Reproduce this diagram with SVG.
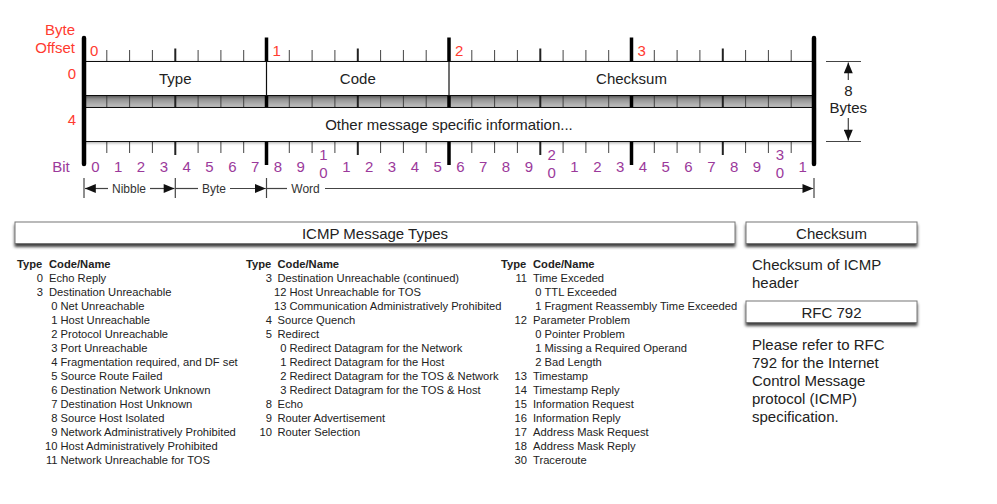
<svg xmlns="http://www.w3.org/2000/svg" xmlns:xlink="http://www.w3.org/1999/xlink" width="997" height="504" viewBox="0 0 997 504">
<style>
text{font-family:"Liberation Sans",Arial,Helvetica,sans-serif;fill:#222}
.red{fill:#ff3b30;font-size:15px}
.pur{fill:#9b399b;font-size:15px;text-anchor:middle}
.lbl{font-size:15px;text-anchor:middle}
.ann{font-size:12px;text-anchor:middle;fill:#333}
.desc{font-size:15px}
.t{font-size:11.2px}
.n{font-size:11.2px;text-anchor:end}
.h{font-size:11.2px;font-weight:bold}
.thin{stroke:#444;stroke-width:1;fill:none}
.nib{stroke:#222;stroke-width:2;fill:none}
.byte{stroke:#000;stroke-width:3.5;fill:none}
.frame{stroke:#000;stroke-width:4.5;fill:none;stroke-linecap:round}
.box{fill:#fff;stroke:#111;stroke-width:1}
.hbox{fill:#fff;stroke:#777;stroke-width:1}
.cn{stroke:#444;stroke-width:1.2;fill:none}
</style>
<defs>
<linearGradient id="band" x1="0" y1="0" x2="0" y2="1">
<stop offset="0" stop-color="#7c7c7c"/><stop offset="1" stop-color="#c4c4c4"/>
</linearGradient>
<filter id="sh" x="-5%" y="-40%" width="110%" height="200%">
<feDropShadow dx="0" dy="3" stdDeviation="1.8" flood-color="#000" flood-opacity="0.75"/>
</filter>
<filter id="sh2" x="-5%" y="-30%" width="110%" height="160%">
<feDropShadow dx="0" dy="1" stdDeviation="1.5" flood-color="#000" flood-opacity="0.35"/>
</filter>
<marker id="ah" viewBox="0 0 12 10" refX="12" refY="5" markerWidth="12" markerHeight="9" markerUnits="userSpaceOnUse" orient="auto-start-reverse">
<path d="M0,0 L12,5 L0,10 z" fill="#111"/>
</marker>
<path id="thinT" d="M106.8 0v11M129.6 0v11M152.4 0v11M198.1 0v11M220.9 0v11M243.7 0v11M289.3 0v11M312.1 0v11M334.9 0v11M380.6 0v11M403.4 0v11M426.2 0v11M471.8 0v11M494.6 0v11M517.4 0v11M563.1 0v11M585.9 0v11M608.7 0v11M654.3 0v11M677.1 0v11M699.9 0v11M745.6 0v11M768.4 0v11M791.2 0v11"/>
<path id="nibT" d="M175.3 0v13M357.8 0v13M540.3 0v13M722.8 0v13"/>
</defs>

<g id="ruler">
<rect x="84" y="95.5" width="730" height="12" fill="url(#band)"/>
<line x1="84" y1="95.5" x2="814" y2="95.5" stroke="#222"/>
<line x1="84" y1="107.5" x2="814" y2="107.5" stroke="#222"/>
<use xlink:href="#thinT" class="thin" transform="translate(0,50)"/>
<use xlink:href="#thinT" class="thin" transform="translate(0,96)"/>
<use xlink:href="#thinT" class="thin" transform="translate(0,142)"/>
<use xlink:href="#nibT" class="nib" transform="translate(0,48.5)"/>
<path class="nib" d="M175.3 96v11M357.8 96v11M540.3 96v11M722.8 96v11"/>
<use xlink:href="#nibT" class="nib" transform="translate(0,142)"/>
<path class="byte" d="M266.5 37.5V61.5M449 37.5V61.5M631.5 37.5V61.5M266.5 96V107M449 96V107M631.5 96V107M266.5 142V165M449 142V165M631.5 142V165"/>
</g>

<g id="row0" filter="url(#sh2)">
<rect class="box" x="84" y="61.5" width="730" height="34"/>
<path d="M266.5 61.5V95.5M449 61.5V95.5" stroke="#111" stroke-width="1.2"/>
</g>
<g id="field-type"><text class="lbl" x="175.3" y="84">Type</text></g>
<g id="field-code"><text class="lbl" x="357.8" y="84">Code</text></g>
<g id="field-checksum"><text class="lbl" x="631.5" y="84">Checksum</text></g>

<g id="row4" filter="url(#sh2)">
<rect class="box" x="84" y="107.5" width="730" height="34"/>
</g>
<g id="field-other"><text class="lbl" x="449" y="130">Other message specific information...</text></g>

<g id="frame">
<path class="frame" d="M84 38V164M814 38V164"/>
</g>

<g id="offsets">
<text class="red" x="75" y="35" text-anchor="end">Byte</text>
<text class="red" x="75" y="53" text-anchor="end">Offset</text>
<text class="red" x="90" y="56">0</text>
<text class="red" x="272.5" y="56">1</text>
<text class="red" x="455" y="56">2</text>
<text class="red" x="637.5" y="56">3</text>
<text class="red" x="76" y="79" text-anchor="end">0</text>
<text class="red" x="76" y="125" text-anchor="end">4</text>
</g>

<g id="bits">
<text class="pur" x="61" y="172">Bit</text>
<text class="pur" x="95.4" y="172">0</text>
<text class="pur" x="118.2" y="172">1</text>
<text class="pur" x="141" y="172">2</text>
<text class="pur" x="163.8" y="172">3</text>
<text class="pur" x="186.7" y="172">4</text>
<text class="pur" x="209.5" y="172">5</text>
<text class="pur" x="232.3" y="172">6</text>
<text class="pur" x="255.1" y="172">7</text>
<text class="pur" x="277.9" y="172">8</text>
<text class="pur" x="300.7" y="172">9</text>
<text class="pur" x="323.5" y="160">1</text>
<text class="pur" x="323.5" y="178">0</text>
<text class="pur" x="346.3" y="172">1</text>
<text class="pur" x="369.2" y="172">2</text>
<text class="pur" x="392" y="172">3</text>
<text class="pur" x="414.8" y="172">4</text>
<text class="pur" x="437.6" y="172">5</text>
<text class="pur" x="460.4" y="172">6</text>
<text class="pur" x="483.2" y="172">7</text>
<text class="pur" x="506" y="172">8</text>
<text class="pur" x="528.8" y="172">9</text>
<text class="pur" x="551.7" y="160">2</text>
<text class="pur" x="551.7" y="178">0</text>
<text class="pur" x="574.5" y="172">1</text>
<text class="pur" x="597.3" y="172">2</text>
<text class="pur" x="620.1" y="172">3</text>
<text class="pur" x="642.9" y="172">4</text>
<text class="pur" x="665.7" y="172">5</text>
<text class="pur" x="688.5" y="172">6</text>
<text class="pur" x="711.3" y="172">7</text>
<text class="pur" x="734.2" y="172">8</text>
<text class="pur" x="757" y="172">9</text>
<text class="pur" x="779.8" y="160">3</text>
<text class="pur" x="779.8" y="178">0</text>
<text class="pur" x="802.6" y="172">1</text>
</g>

<g id="connectors">
<path class="cn" d="M84 178V198M175.3 178V198M266.5 178V198M814 178V198"/>
<line class="cn" x1="85" y1="188.5" x2="108" y2="188.5" marker-start="url(#ah)"/>
<line class="cn" x1="150" y1="188.5" x2="174.5" y2="188.5" marker-end="url(#ah)"/>
<line class="cn" x1="175.3" y1="188.5" x2="198" y2="188.5"/>
<line class="cn" x1="230" y1="188.5" x2="265.8" y2="188.5" marker-end="url(#ah)"/>
<line class="cn" x1="266.5" y1="188.5" x2="287" y2="188.5"/>
<line class="cn" x1="325" y1="188.5" x2="813.3" y2="188.5" marker-end="url(#ah)"/>
<path class="cn" d="M826 61.5H861M826 141.5H861"/>
<line class="cn" x1="848.3" y1="80" x2="848.3" y2="62.5" marker-end="url(#ah)"/>
<line class="cn" x1="848.3" y1="118" x2="848.3" y2="140.5" marker-end="url(#ah)"/>
</g>
<g id="annotations">
<text class="ann" x="129" y="192.5">Nibble</text>
<text class="ann" x="214" y="192.5">Byte</text>
<text class="ann" x="305.5" y="192.5">Word</text>
<text class="lbl" x="848.3" y="96">8</text>
<text class="lbl" x="848.3" y="113">Bytes</text>
</g>

<g id="types-header">
<rect class="hbox" x="15" y="222" width="720" height="21.5" filter="url(#sh)"/>
<text class="lbl" x="375" y="238.5">ICMP Message Types</text>
</g>
<g id="checksum-header">
<rect class="hbox" x="746" y="222" width="171" height="21.5" filter="url(#sh)"/>
<text class="lbl" x="831.5" y="238.5">Checksum</text>
</g>
<g id="checksum-desc">
<text class="desc" x="752" y="270">Checksum of ICMP</text>
<text class="desc" x="752" y="288">header</text>
</g>
<g id="rfc-header">
<rect class="hbox" x="746" y="301" width="171" height="21.5" filter="url(#sh)"/>
<text class="lbl" x="831.5" y="317.5">RFC 792</text>
</g>
<g id="rfc-desc">
<text class="desc" x="752" y="350">Please refer to RFC</text>
<text class="desc" x="752" y="368">792 for the Internet</text>
<text class="desc" x="752" y="386">Control Message</text>
<text class="desc" x="752" y="404">protocol (ICMP)</text>
<text class="desc" x="752" y="422">specification.</text>
</g>

<g id="table-col1">
<text class="h" x="17" y="268">Type</text><text class="h" x="49" y="268">Code/Name</text>
<text class="n" x="43" y="282">0</text><text class="t" x="49" y="282">Echo Reply</text>
<text class="n" x="43" y="296">3</text><text class="t" x="49" y="296">Destination Unreachable</text>
<text class="n" x="57.5" y="310">0</text><text class="t" x="60.5" y="310">Net Unreachable</text>
<text class="n" x="57.5" y="324">1</text><text class="t" x="60.5" y="324">Host Unreachable</text>
<text class="n" x="57.5" y="338">2</text><text class="t" x="60.5" y="338">Protocol Unreachable</text>
<text class="n" x="57.5" y="352">3</text><text class="t" x="60.5" y="352">Port Unreachable</text>
<text class="n" x="57.5" y="366">4</text><text class="t" x="60.5" y="366">Fragmentation required, and DF set</text>
<text class="n" x="57.5" y="380">5</text><text class="t" x="60.5" y="380">Source Route Failed</text>
<text class="n" x="57.5" y="394">6</text><text class="t" x="60.5" y="394">Destination Network Unknown</text>
<text class="n" x="57.5" y="408">7</text><text class="t" x="60.5" y="408">Destination Host Unknown</text>
<text class="n" x="57.5" y="422">8</text><text class="t" x="60.5" y="422">Source Host Isolated</text>
<text class="n" x="57.5" y="436">9</text><text class="t" x="60.5" y="436">Network Administratively Prohibited</text>
<text class="n" x="57.5" y="450">10</text><text class="t" x="60.5" y="450">Host Administratively Prohibited</text>
<text class="n" x="57.5" y="464">11</text><text class="t" x="60.5" y="464">Network Unreachable for TOS</text>
</g>

<g id="table-col2">
<text class="h" x="246" y="268">Type</text><text class="h" x="277.5" y="268">Code/Name</text>
<text class="n" x="272" y="282">3</text><text class="t" x="277.5" y="282">Destination Unreachable (continued)</text>
<text class="n" x="286.5" y="296">12</text><text class="t" x="289.5" y="296">Host Unreachable for TOS</text>
<text class="n" x="286.5" y="310">13</text><text class="t" x="289.5" y="310">Communication Administratively Prohibited</text>
<text class="n" x="272" y="324">4</text><text class="t" x="277.5" y="324">Source Quench</text>
<text class="n" x="272" y="338">5</text><text class="t" x="277.5" y="338">Redirect</text>
<text class="n" x="286.5" y="352">0</text><text class="t" x="289.5" y="352">Redirect Datagram for the Network</text>
<text class="n" x="286.5" y="366">1</text><text class="t" x="289.5" y="366">Redirect Datagram for the Host</text>
<text class="n" x="286.5" y="380">2</text><text class="t" x="289.5" y="380">Redirect Datagram for the TOS &amp; Network</text>
<text class="n" x="286.5" y="394">3</text><text class="t" x="289.5" y="394">Redirect Datagram for the TOS &amp; Host</text>
<text class="n" x="272" y="408">8</text><text class="t" x="277.5" y="408">Echo</text>
<text class="n" x="272" y="422">9</text><text class="t" x="277.5" y="422">Router Advertisement</text>
<text class="n" x="272" y="436">10</text><text class="t" x="277.5" y="436">Router Selection</text>
</g>

<g id="table-col3">
<text class="h" x="501" y="268">Type</text><text class="h" x="533" y="268">Code/Name</text>
<text class="n" x="527" y="282">11</text><text class="t" x="533" y="282">Time Exceded</text>
<text class="n" x="541.5" y="296">0</text><text class="t" x="544.5" y="296">TTL Exceeded</text>
<text class="n" x="541.5" y="310">1</text><text class="t" x="544.5" y="310">Fragment Reassembly Time Exceeded</text>
<text class="n" x="527" y="324">12</text><text class="t" x="533" y="324">Parameter Problem</text>
<text class="n" x="541.5" y="338">0</text><text class="t" x="544.5" y="338">Pointer Problem</text>
<text class="n" x="541.5" y="352">1</text><text class="t" x="544.5" y="352">Missing a Required Operand</text>
<text class="n" x="541.5" y="366">2</text><text class="t" x="544.5" y="366">Bad Length</text>
<text class="n" x="527" y="380">13</text><text class="t" x="533" y="380">Timestamp</text>
<text class="n" x="527" y="394">14</text><text class="t" x="533" y="394">Timestamp Reply</text>
<text class="n" x="527" y="408">15</text><text class="t" x="533" y="408">Information Request</text>
<text class="n" x="527" y="422">16</text><text class="t" x="533" y="422">Information Reply</text>
<text class="n" x="527" y="436">17</text><text class="t" x="533" y="436">Address Mask Request</text>
<text class="n" x="527" y="450">18</text><text class="t" x="533" y="450">Address Mask Reply</text>
<text class="n" x="527" y="464">30</text><text class="t" x="533" y="464">Traceroute</text>
</g>
</svg>
